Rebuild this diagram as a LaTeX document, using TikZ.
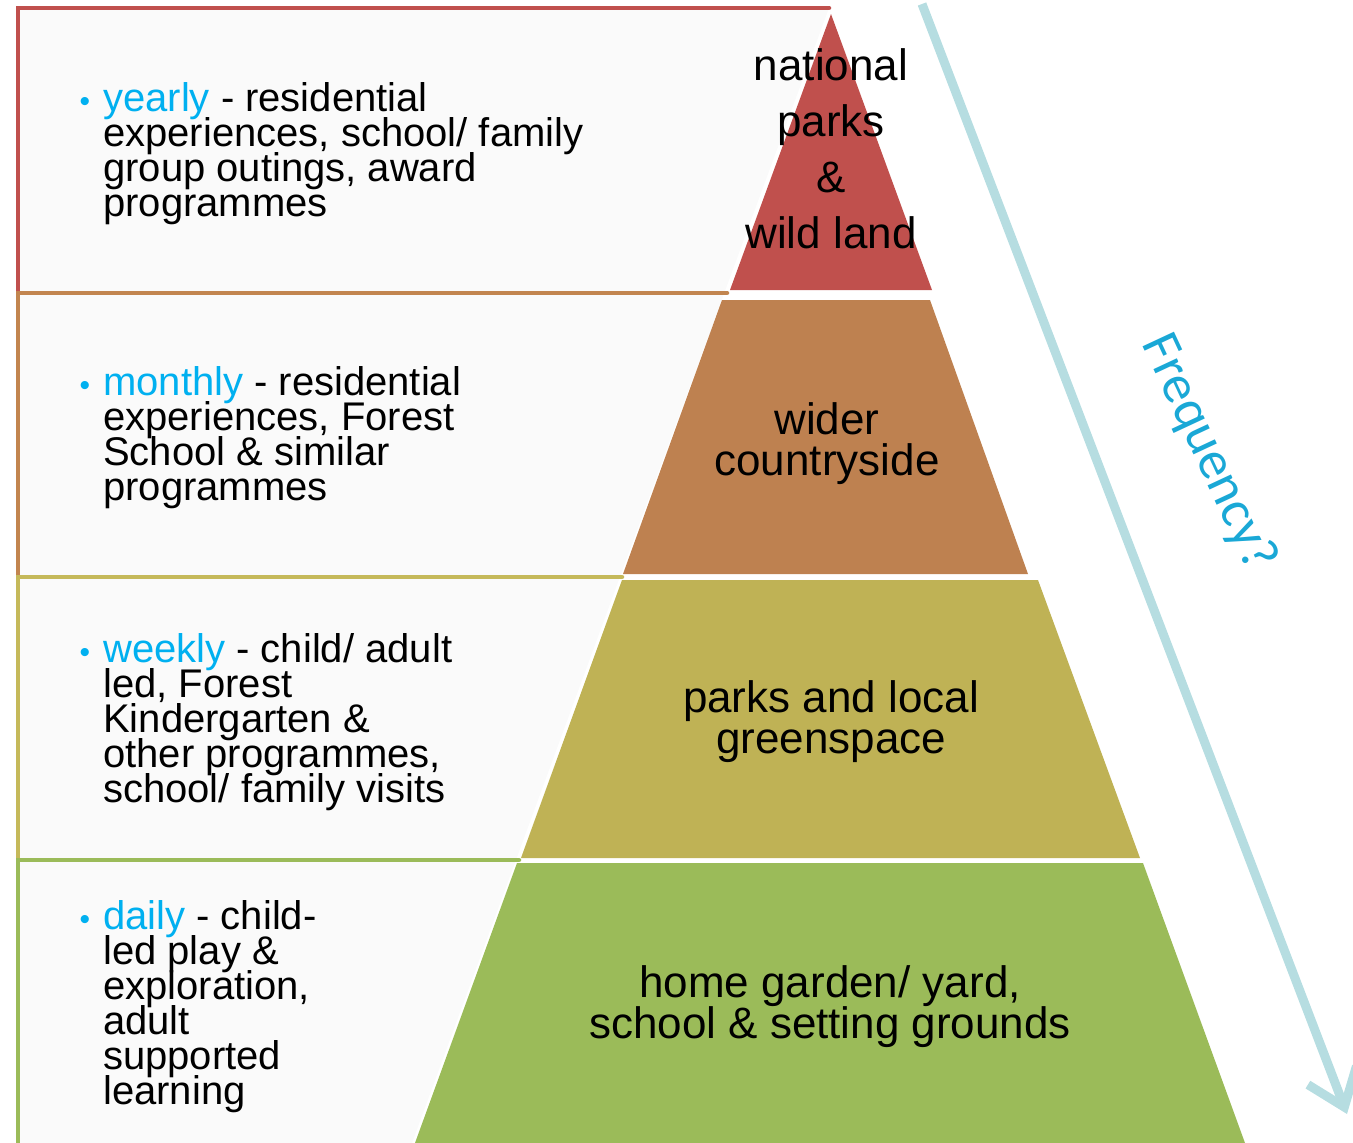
\documentclass[tikz,border=0pt]{standalone}
\usepackage{fontspec}
\setmainfont{Liberation Sans}
\newfontfamily\freqfont{Carlito}
\usetikzlibrary{arrows.meta,positioning}

\definecolor{tierred}{HTML}{C0504D}
\definecolor{tierorange}{HTML}{BE8150}
\definecolor{tierolive}{HTML}{BFB255}
\definecolor{tiergreen}{HTML}{9BBB59}
\definecolor{lineorange}{HTML}{C2854F}
\definecolor{lineolive}{HTML}{C5B95A}
\definecolor{listblue}{HTML}{00B0F0}
\definecolor{freqblue}{HTML}{1AA8D6}
\definecolor{freqline}{HTML}{B6DDE1}
\definecolor{boxgray}{HTML}{FAFAFA}

\newcommand{\tierword}[1]{\llap{\textcolor{listblue}{\fontsize{30}{30}\selectfont •}\hspace{13pt}}\textcolor{listblue}{#1}}

\begin{document}
\begin{tikzpicture}[
    x=1pt, y=-1pt,
    % Styles
    listtext/.style={
        anchor=north west, inner sep=0pt, align=left,
        font={\fontsize{40}{35}\selectfont\lineskiplimit=-30pt}
    },
    bandtext/.style={
        inner sep=0pt, align=center,
        font={\fontsize{44}{41}\selectfont\lineskiplimit=-30pt}
    },
    boxline/.style={line width=4.5pt, line cap=round},
    freqarrow/.style={
        -{Straight Barb[length=34pt,width=52pt]},
        line width=9pt, draw=freqline
    }
]
\useasboundingbox (0,0) rectangle (1353,1143);

% Boxes behind the list
\fill[boxgray] (18,8) -- (829,8) -- (412,1143) -- (18,1143) -- cycle;

% Box borders
\foreach \ytop/\ybot/\xend/\col in {8/293/829/tierred, 293/577/727/lineorange,
    577/860/622/lineolive, 860/1143/519/tiergreen} {
    \draw[boxline, draw=\col] (18,\ybot) -- (18,\ytop) -- (\xend,\ytop);
}

% Pyramid
\fill[tierred] (831,14) -- (932,290) -- (730,290) -- cycle;
\fill[tierorange] (722,300) -- (930,300) -- (1028,574) -- (623,574) -- cycle;
\fill[tierolive] (622,580) -- (1038,580) -- (1140,858) -- (521,858) -- cycle;
\fill[tiergreen] (517,863) -- (1143,863) -- (1245,1143) -- (415,1143) -- cycle;

\node[bandtext, font={\fontsize{44}{56}\selectfont}] (national) at (831,149)
    {national\\parks\\\&\\wild land};
\node[bandtext] (wider) at (827,444) {wider\\countryside};
\node[bandtext] (parks) at (831,722) {parks and local\\greenspace};
\node[bandtext] (home) at (830,1007) {home garden/ yard,\\school \& setting grounds};

% List texts
\node[listtext] (yearly) at (103,82) {\tierword{yearly} - residential\\
    experiences, school/ family\\group outings, award\\programmes};
\node[listtext] (monthly) at (103,366) {\tierword{monthly} - residential\\
    experiences, Forest\\School \& similar\\programmes};
\node[listtext] (weekly) at (103,633) {\tierword{weekly} - child/ adult\\
    led, Forest\\Kindergarten \&\\other programmes,\\school/ family visits};
\node[listtext] (daily) at (103,900) {\tierword{daily} - child-\\
    led play \&\\exploration,\\adult\\supported\\learning};

% Frequency arrow
\coordinate (freqtop) at (922,4);
\coordinate (freqend) at (1347,1114);
\draw[freqarrow] (freqtop) -- (freqend);
\node[font=\freqfont\fontsize{54}{54}\selectfont, text=freqblue, rotate=-65,
      inner sep=0pt] (frequency) at (1208,453) {Frequency?};

\end{tikzpicture}
\end{document}
